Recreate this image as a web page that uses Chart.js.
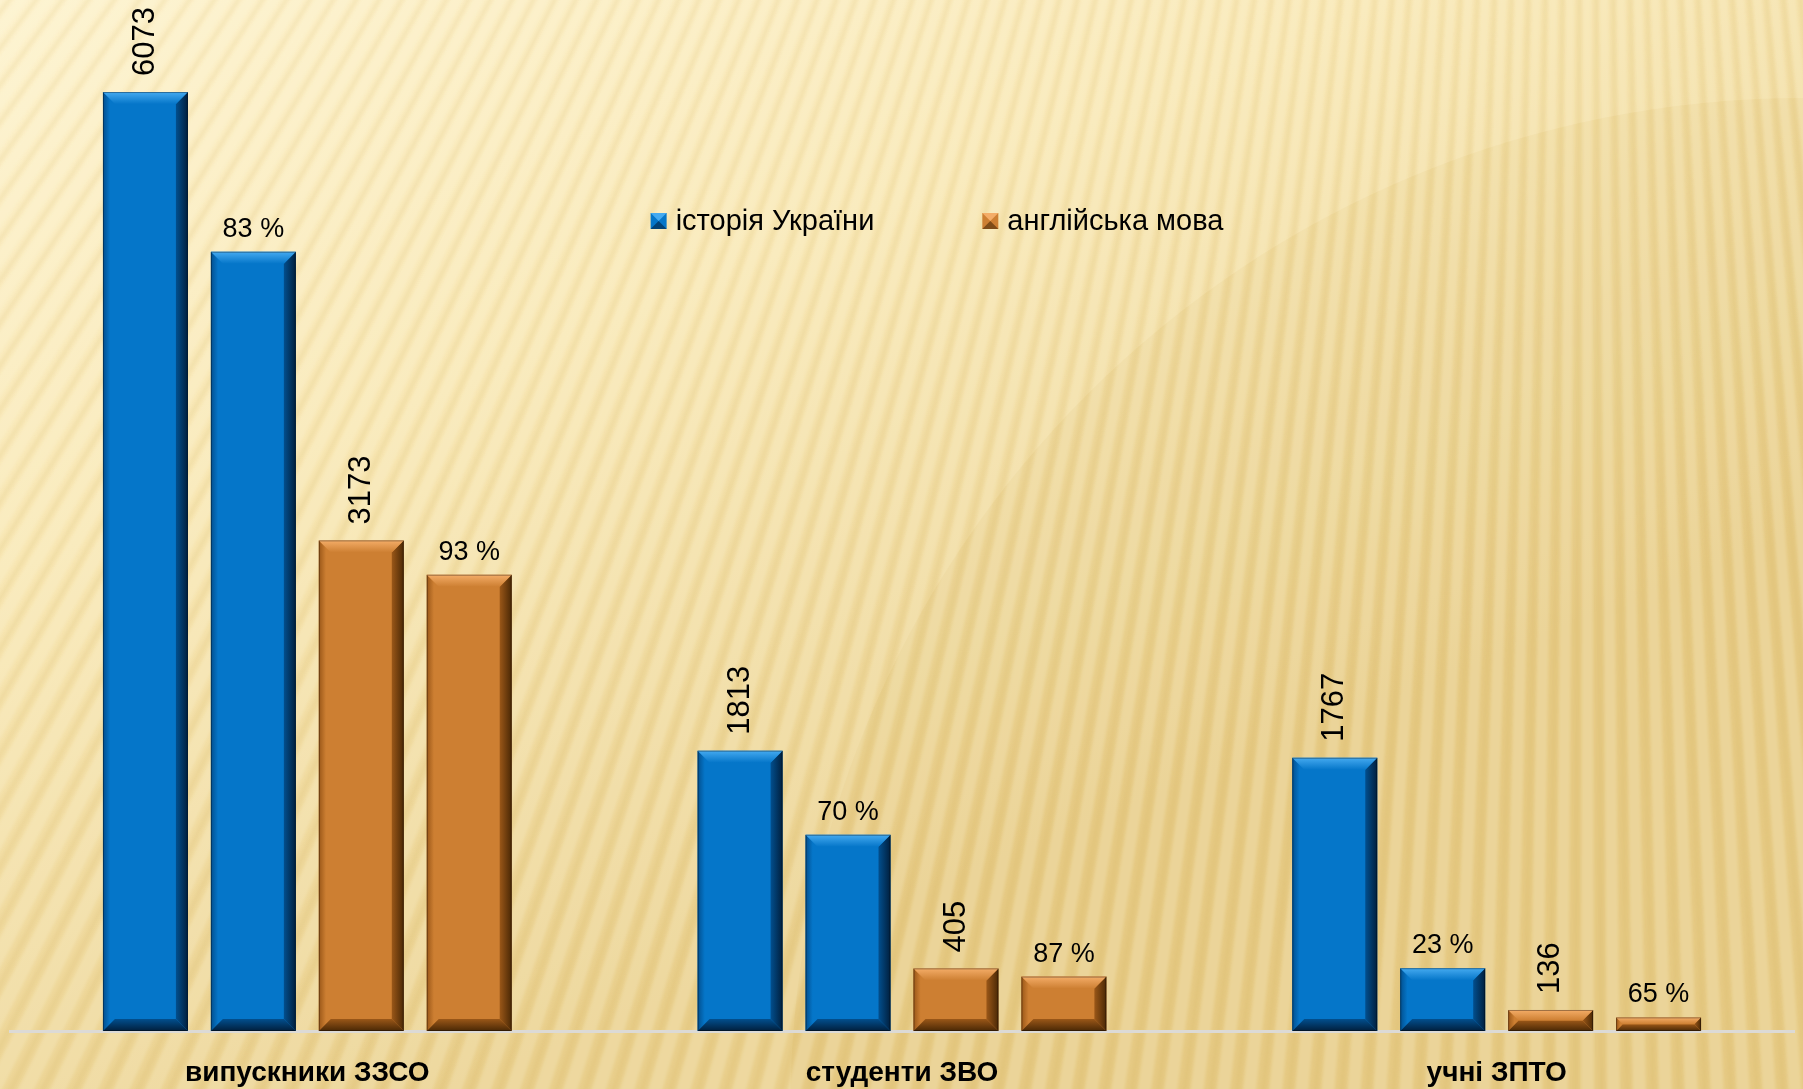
<!DOCTYPE html>
<html><head><meta charset="utf-8">
<script src="https://cdn.jsdelivr.net/npm/chart.js@4.4.1/dist/chart.umd.min.js"></script>
<style>html,body{margin:0;padding:0;background:#f5e4ac;overflow:hidden}canvas{display:block}</style>
</head><body>
<canvas id="c" width="1803" height="1089"></canvas>
<script>
// ---- data ----
const categories = ['випускники ЗЗСО', 'студенти ЗВО', 'учні ЗПТО'];
const seriesNames = ['історія України', 'англійська мова'];
const historyTotal = [6073, 1813, 1767];
const historyPassed = [5040, 1269, 406];
const historyPassedLabels = ['83 %', '70 %', '23 %'];
const englishTotal = [3173, 405, 136];
const englishPassed = [2951, 352, 88];
const englishPassedLabels = ['93 %', '87 %', '65 %'];
const yMax = 6500;

const BLUE = {main: '#0576c9', light: '#45aaf0', dark: '#011f3d', side: '#024f8e'};
const ORANGE = {main: '#cd7f32', light: '#f4ad68', dark: '#4a2805', side: '#9a5718'};

const bgPlugin = {
  id: 'bg',
  beforeDraw(chart) {
    const {ctx, width, height} = chart;
    ctx.save();
    const g = ctx.createLinearGradient(0, 0, width * 0.25, height);
    g.addColorStop(0, '#fdf2cd');
    g.addColorStop(0.45, '#f8e7b4');
    g.addColorStop(1, '#e9cf8c');
    ctx.fillStyle = g;
    ctx.fillRect(0, 0, width, height);
    // darker disc upper right
    ctx.beginPath();
    ctx.arc(width * 1.0, height * 1.02, height * 0.93, 0, Math.PI * 2);
    ctx.fillStyle = 'rgba(205,165,70,0.10)';
    ctx.fill();
    // soft stripes radiating from a point above the picture
    const qx = width * 0.88, qy = -height * 1.9;
    const R = 6000;
    const a0 = 80 * Math.PI / 180, a1 = 130 * Math.PI / 180, step = 0.0082;
    ctx.filter = 'blur(1.5px)';
    for (let a = a0; a < a1; a += step) {
      ctx.beginPath();
      ctx.moveTo(qx, qy);
      ctx.lineTo(qx + R * Math.cos(a), qy + R * Math.sin(a));
      ctx.lineTo(qx + R * Math.cos(a + step * 0.5), qy + R * Math.sin(a + step * 0.5));
      ctx.closePath();
      ctx.fillStyle = 'rgba(255,250,228,0.22)';
      ctx.fill();
      ctx.beginPath();
      ctx.moveTo(qx, qy);
      ctx.lineTo(qx + R * Math.cos(a + step * 0.62), qy + R * Math.sin(a + step * 0.62));
      ctx.lineTo(qx + R * Math.cos(a + step * 0.82), qy + R * Math.sin(a + step * 0.82));
      ctx.closePath();
      ctx.fillStyle = 'rgba(200,160,70,0.11)';
      ctx.fill();
    }
    ctx.filter = 'none';
    ctx.restore();
  }
};

const bevelPlugin = {
  id: 'bevel',
  afterDatasetsDraw(chart) {
    const ctx = chart.ctx;
    chart.data.datasets.forEach((ds, di) => {
      const meta = chart.getDatasetMeta(di);
      const pal = ds.palette;
      meta.data.forEach(el => {
        const l = el.x - el.width / 2, r = el.x + el.width / 2;
        const t = el.y, b = el.base;
        const h = b - t;
        const bv = Math.min(12, h / 2);
        ctx.save();
        let g = ctx.createLinearGradient(r - bv, 0, r, 0);
        g.addColorStop(0, pal.side); g.addColorStop(1, pal.dark);
        ctx.fillStyle = g;
        ctx.beginPath(); ctx.moveTo(r, t); ctx.lineTo(r, b); ctx.lineTo(r - bv, b - bv); ctx.lineTo(r - bv, t + bv); ctx.closePath(); ctx.fill();
        g = ctx.createLinearGradient(l, 0, l + bv * 0.6, 0);
        g.addColorStop(0, pal.side); g.addColorStop(1, pal.main);
        ctx.fillStyle = g;
        ctx.beginPath(); ctx.moveTo(l, t); ctx.lineTo(l + bv, t + bv); ctx.lineTo(l + bv, b - bv); ctx.lineTo(l, b); ctx.closePath(); ctx.fill();
        g = ctx.createLinearGradient(0, b - bv, 0, b);
        g.addColorStop(0, pal.side); g.addColorStop(1, pal.dark);
        ctx.fillStyle = g;
        ctx.beginPath(); ctx.moveTo(l, b); ctx.lineTo(r, b); ctx.lineTo(r - bv, b - bv); ctx.lineTo(l + bv, b - bv); ctx.closePath(); ctx.fill();
        g = ctx.createLinearGradient(0, t, 0, t + bv);
        g.addColorStop(0, pal.light); g.addColorStop(1, pal.main);
        ctx.fillStyle = g;
        ctx.beginPath(); ctx.moveTo(l, t); ctx.lineTo(r, t); ctx.lineTo(r - bv, t + bv); ctx.lineTo(l + bv, t + bv); ctx.closePath(); ctx.fill();
        ctx.strokeStyle = 'rgba(0,0,0,0.35)';
        ctx.lineWidth = 1;
        ctx.strokeRect(l + 0.5, t + 0.5, el.width - 1, h - 1);
        ctx.restore();
      });
    });
  }
};

const labelPlugin = {
  id: 'vals',
  afterDatasetsDraw(chart) {
    const ctx = chart.ctx;
    chart.data.datasets.forEach((ds, di) => {
      const meta = chart.getDatasetMeta(di);
      meta.data.forEach((el, i) => {
        ctx.save();
        ctx.fillStyle = '#000';
        if (ds.textLabels) {
          ctx.font = '27px "Liberation Sans", Arial, sans-serif';
          ctx.textAlign = 'center';
          ctx.textBaseline = 'alphabetic';
          ctx.fillText(ds.textLabels[i], el.x, el.y - 15);
        } else {
          ctx.font = '31px "Liberation Sans", Arial, sans-serif';
          ctx.translate(el.x, el.y - 16);
          ctx.rotate(-Math.PI / 2);
          ctx.textAlign = 'left';
          ctx.textBaseline = 'middle';
          ctx.fillText(String(ds.data[i]), 0, 0);
        }
        ctx.restore();
      });
    });
  }
};

// legend drawn inside the plot area, centred (slightly right of centre)
const legendPlugin = {
  id: 'innerLegend',
  afterDraw(chart) {
    const ctx = chart.ctx;
    const area = chart.chartArea;
    const items = [0, 2].map(di => ({text: chart.data.datasets[di].label, pal: chart.data.datasets[di].palette}));
    ctx.save();
    ctx.font = '29px "Liberation Sans Narrow", "Liberation Sans", sans-serif';
    const box = 16, gapText = 9, gapItem = 108;
    const widths = items.map(it => box + gapText + ctx.measureText(it.text).width);
    const total = widths.reduce((s, w) => s + w, 0) + gapItem * (items.length - 1);
    let x = (area.left + area.right) / 2 + 35 - total / 2;
    const y = area.top + 195;
    items.forEach((it, i) => {
      const bx = x, by = y - box / 2;
      ctx.fillStyle = it.pal.main;
      ctx.fillRect(bx, by, box, box);
      ctx.fillStyle = it.pal.light;
      ctx.beginPath(); ctx.moveTo(bx, by); ctx.lineTo(bx + box, by); ctx.lineTo(bx + box / 2, by + box / 2); ctx.closePath(); ctx.fill();
      ctx.fillStyle = it.pal.dark;
      ctx.globalAlpha = 0.6;
      ctx.beginPath(); ctx.moveTo(bx, by + box); ctx.lineTo(bx + box, by + box); ctx.lineTo(bx + box / 2, by + box / 2); ctx.closePath(); ctx.fill();
      ctx.globalAlpha = 1;
      ctx.fillStyle = '#000';
      ctx.textAlign = 'left';
      ctx.textBaseline = 'middle';
      ctx.fillText(it.text, bx + box + gapText, y + 1);
      x += widths[i] + gapItem;
    });
    ctx.restore();
  }
};

new Chart(document.getElementById('c'), {
  type: 'bar',
  data: {
    labels: categories,
    datasets: [
      {label: seriesNames[0], data: historyTotal, backgroundColor: BLUE.main, palette: BLUE},
      {label: seriesNames[0], data: historyPassed, backgroundColor: BLUE.main, palette: BLUE, textLabels: historyPassedLabels},
      {label: seriesNames[1], data: englishTotal, backgroundColor: ORANGE.main, palette: ORANGE},
      {label: seriesNames[1], data: englishPassed, backgroundColor: ORANGE.main, palette: ORANGE, textLabels: englishPassedLabels}
    ]
  },
  options: {
    responsive: false,
    animation: false,
    layout: {padding: {left: 10, right: 9, top: 26, bottom: 0}},
    datasets: {bar: {categoryPercentage: 0.726, barPercentage: 0.787, borderWidth: 0}},
    scales: {
      x: {
        grid: {display: false, drawTicks: false},
        border: {display: true, color: '#dcdad6', width: 3},
        ticks: {color: '#000', padding: 25, font: {family: '"Liberation Sans Narrow", "Liberation Sans", sans-serif', size: 28, weight: 'bold'}},
        afterFit(scale) { scale.height = 58; }
      },
      y: {display: false, min: 0, max: yMax}
    },
    plugins: {
      legend: {display: false},
      tooltip: {enabled: false}
    }
  },
  plugins: [bgPlugin, bevelPlugin, labelPlugin, legendPlugin]
});
</script>
</body></html>
